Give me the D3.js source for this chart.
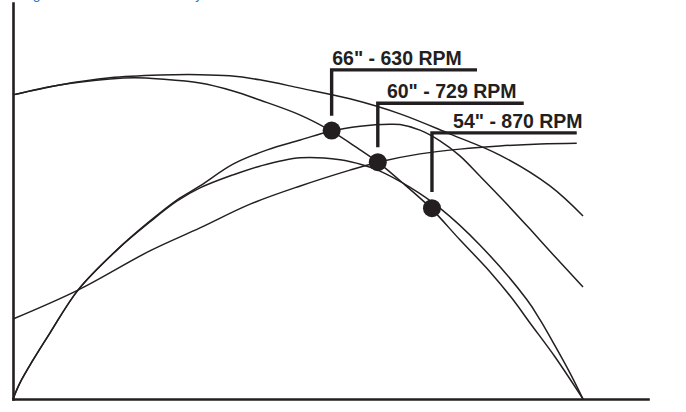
<!DOCTYPE html>
<html>
<head>
<meta charset="utf-8">
<script src="https://cdn.jsdelivr.net/npm/d3@7"></script>
<style>
  html, body { margin: 0; padding: 0; background: #ffffff; }
  svg { display: block; }
</style>
</head>
<body>
<svg id="chart" width="686" height="412"></svg>
<script>
// ---- Data (arbitrary units: x = airflow %, y = pressure %) ----
const captionText = "Figure 6 - Fan Curve Overlay";
const xAxisMax = 111.4;
const yAxisMax = 100;

// Fan pressure curve (upper)
const curveA_x = [0, 8.2, 17, 25.8, 32.8, 38, 43.3, 50.4, 59.1, 67.9, 76.7, 85.4, 94.2, 100];
const curveA_y = [76.8, 79.3, 81.1, 81.8, 81.9, 81.6, 80.6, 78.5, 75.8, 72.0, 66.9, 61.6, 53.8, 46.2];

// Curve through the operating points
const curveB_x = [0, 8.2, 17, 21.4, 25.8, 32.8, 38.6, 43.3, 50.4, 55.8, 60.4, 64, 68.8, 73.3, 78.4, 83.7, 87.5, 90.7, 95.1, 100];
const curveB_y = [76.8, 79.3, 80.8, 81.1, 80.8, 79.8, 77.8, 75.5, 71.7, 67.7, 63.4, 59.8, 54.0, 48.2, 40.2, 32.1, 25.5, 19.2, 10.6, 0];

// Upper arch from origin
const curveC_x = [0, 1.2, 3.5, 6.5, 11.4, 18.2, 24, 28.8, 32.8, 38.6, 44.6, 50.4, 55.8, 60.9, 66.1, 67.9, 71.4, 74.9, 78.4, 81.9, 85.8, 90.7, 95.1, 100];
const curveC_y = [0, 4.0, 9.8, 16.7, 27.5, 37.6, 44.9, 50.3, 53.8, 59.3, 62.9, 65.4, 67.7, 68.9, 69.4, 69.3, 67.9, 65.2, 61.4, 56.3, 50.5, 42.9, 35.9, 28.3];

// Lower arch from origin
const curveD_x = [0, 1.2, 3.5, 6.5, 11.4, 18.2, 24, 28.8, 32.8, 38.6, 43.3, 50.4, 57.4, 61.4, 64, 69.6, 74.9, 81.9, 90.2, 92.5, 95.1, 97.7, 100];
const curveD_y = [0, 4.0, 9.8, 16.7, 27.5, 37.6, 44.7, 50.0, 53.3, 56.6, 58.8, 60.9, 60.4, 59.1, 57.8, 53.5, 48.2, 38.9, 25.0, 19.9, 13.4, 6.6, 0];

// Rising / flattening curve
const curveE_x = [0, 11.4, 24, 32.8, 41.6, 50.4, 59.1, 64, 71.4, 78.4, 85.4, 92.5, 98.9];
const curveE_y = [20.2, 27.5, 37.4, 43.2, 49.2, 53.8, 57.8, 59.8, 61.9, 63.1, 63.9, 64.4, 64.6];

// Operating points and their callouts
const pointLabels = ["66\" - 630 RPM", "60\" - 729 RPM", "54\" - 870 RPM"];
const pointX = [55.9, 64.0, 73.5];
const pointY = [67.8, 59.8, 48.2];
const calloutTopY = [83.1, 74.7, 67.2];
const calloutBottomY = [71.5, 63.6, 52.3];
const calloutEndX = [81.4, 89.6, 98.9];
const labelX = [56.0, 65.6, 77.2];

// ---- Drawing ----
const svg = d3.select("#chart");
const ink = "#231f20";

const x = d3.scaleLinear().domain([0, xAxisMax]).range([13, 648]);
const y = d3.scaleLinear().domain([0, yAxisMax]).range([399, 3]);

// caption (cut off at top, as in the source)
svg.append("text")
  .attr("x", 21).attr("y", -1.5)
  .attr("font-family", "Liberation Sans, Arial, sans-serif")
  .attr("font-size", 14)
  .attr("fill", "#2b7bbf")
  .text(captionText);

const toPts = (xs, ys) => xs.map((v, i) => [v, ys[i]]);
const line = d3.line().x(d => x(d[0])).y(d => y(d[1])).curve(d3.curveCatmullRom.alpha(0.5));

const curves = [
  toPts(curveA_x, curveA_y),
  toPts(curveB_x, curveB_y),
  toPts(curveC_x, curveC_y),
  toPts(curveD_x, curveD_y),
  toPts(curveE_x, curveE_y)
];

svg.append("g").selectAll("path").data(curves).join("path")
  .attr("d", line)
  .attr("fill", "none")
  .attr("stroke", ink)
  .attr("stroke-width", 1.5);

// axes
const xAxis = d3.axisBottom(x).tickValues([]).tickSizeOuter(0);
const yAxis = d3.axisLeft(y).tickValues([]).tickSizeOuter(0);
const gx = svg.append("g").attr("transform", `translate(0,${y(0)})`).call(xAxis);
const gy = svg.append("g").attr("transform", `translate(${x(0)},0)`).call(yAxis);
[gx, gy].forEach(g => g.select(".domain")
  .attr("stroke", ink).attr("stroke-width", 2.6).attr("stroke-linecap", "square"));

// callouts
const callouts = pointLabels.map((label, i) => ({
  label, px: pointX[i], py: pointY[i], top: calloutTopY[i], bottom: calloutBottomY[i], end: calloutEndX[i], lx: labelX[i]
}));

const cg = svg.append("g");
cg.selectAll("path.callout").data(callouts).join("path")
  .attr("class", "callout")
  .attr("d", d => `M${x(d.px)},${y(d.bottom)}V${y(d.top)}H${x(d.end)}`)
  .attr("fill", "none")
  .attr("stroke", ink)
  .attr("stroke-width", 3.4)
  .attr("stroke-linejoin", "miter");

cg.selectAll("circle").data(callouts).join("circle")
  .attr("cx", d => x(d.px)).attr("cy", d => y(d.py)).attr("r", 9)
  .attr("fill", ink);

cg.selectAll("text").data(callouts).join("text")
  .attr("x", d => x(d.lx)).attr("y", d => y(d.top) - 5)
  .attr("font-family", "Liberation Sans, Arial, sans-serif")
  .attr("font-weight", "bold")
  .attr("font-size", 19.5)
  .attr("fill", ink)
  .text(d => d.label);
</script>
</body>
</html>
